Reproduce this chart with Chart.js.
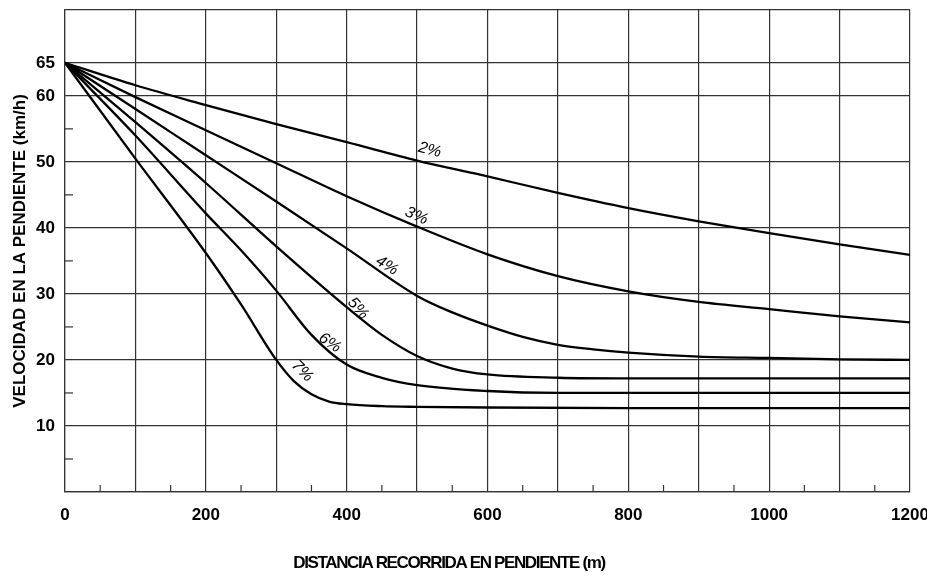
<!DOCTYPE html>
<html><head><meta charset="utf-8">
<script src="https://cdn.jsdelivr.net/npm/chart.js@4/dist/chart.umd.min.js"></script>
<style>html,body{margin:0;padding:0;background:#fff}#wrap{width:927px;height:576px}</style>
</head><body><div id="wrap"><canvas id="c" width="927" height="576"></canvas></div>
<script>
// ---- data ----
const seriesNames = ['2%','3%','4%','5%','6%','7%'];
const x2 = [0,100,200,300,400,500,600,700,800,900,1000,1100,1200];
const y2 = [65,61.6,58.6,55.7,53.0,50.2,47.8,45.3,43.0,41.0,39.2,37.5,35.9];
const x3 = [0,100,200,300,400,500,600,700,800,900,1000,1100,1200];
const y3 = [65,59.8,54.8,49.8,44.8,40.2,36.0,32.7,30.4,28.8,27.7,26.6,25.7];
const x4 = [0,100,200,300,400,500,550,600,650,700,750,800,900,1000,1100,1200];
const y4 = [65,58,51,44,36.9,29.7,27.2,25.2,23.5,22.3,21.6,21.1,20.5,20.3,20.1,20.0];
const x5 = [0,100,200,300,400,450,500,550,600,700,800,1000,1200];
const y5 = [65,56,46.8,37.2,28.0,23.8,20.6,18.7,17.8,17.3,17.2,17.2,17.2];
const x6 = [0,100,200,250,300,350,400,450,500,600,700,900,1200];
const y6 = [65,54,42.2,36.6,30.5,23.8,19.3,17.3,16.2,15.3,15.0,15.0,15.0];
const x7 = [0,100,200,250,300,325,350,375,400,450,500,600,800,1200];
const y7 = [65,50.5,36.2,28.4,20,16.8,14.8,13.7,13.3,13.0,12.9,12.8,12.7,12.7];
const yTickValues = [0,10,20,30,40,50,60,65,73];
const yLabelValues = [10,20,30,40,50,60,65];
const yMinorValues = [5,15,25,35,45,55];
const xMinorValues = [50,150,250,350,450,550,650,750,850,950,1050,1150];
const xLabelStep = 200;
const xTitle = 'DISTANCIA RECORRIDA EN PENDIENTE (m)';
const yTitle = 'VELOCIDAD EN LA PENDIENTE (km/h)';
// curve label anchors (data space) and rotation (deg)
const labelX = [518,499,457,416,376,337];
const labelY = [51.8,41.8,34.3,27.8,22.6,18.3];
const labelRot = [14,24,32,48,34,46];

const xs = [x2,x3,x4,x5,x6,x7];
const ys = [y2,y3,y4,y5,y6,y7];
const datasets = seriesNames.map((n,i)=>({
  label:n,
  data: xs[i].map((v,j)=>({x:v,y:ys[i][j]})),
  borderColor:'#000', borderWidth:2.3, pointRadius:0, fill:false,
  cubicInterpolationMode:'monotone'
}));

const FONT = '"Liberation Sans", Arial, sans-serif';
const GRID = '#333';

const extras = {
  id:'extras',
  afterDatasetsDraw(chart){
    const {ctx, scales:{x,y}} = chart;
    ctx.save();
    ctx.strokeStyle = GRID; ctx.lineWidth = 1.2;
    xMinorValues.forEach(v=>{
      const px = x.getPixelForValue(v);
      ctx.beginPath(); ctx.moveTo(px, y.bottom); ctx.lineTo(px, y.bottom-7); ctx.stroke();
    });
    yMinorValues.forEach(v=>{
      const py = y.getPixelForValue(v);
      ctx.beginPath(); ctx.moveTo(x.left, py); ctx.lineTo(x.left+8, py); ctx.stroke();
    });
    ctx.fillStyle = '#000';
    ctx.font = 'italic 16px ' + FONT;
    ctx.textAlign = 'center'; ctx.textBaseline = 'middle';
    seriesNames.forEach((n,i)=>{
      const px = x.getPixelForValue(labelX[i]);
      const py = y.getPixelForValue(labelY[i]);
      ctx.save(); ctx.translate(px,py); ctx.rotate(labelRot[i]*Math.PI/180);
      ctx.fillText(n,0,0); ctx.restore();
    });
    ctx.restore();
  },
  afterDraw(chart){
    // condensed x-axis title, as in the original print
    const ctx = chart.ctx;
    ctx.save();
    ctx.font = 'bold 17px ' + FONT;
    ctx.fillStyle = '#000';
    ctx.textAlign = 'center'; ctx.textBaseline = 'middle';
    const w = ctx.measureText(xTitle).width;
    const target = 313;
    if ('letterSpacing' in ctx) ctx.letterSpacing = ((target - w) / (xTitle.length - 1)).toFixed(2) + 'px';
    ctx.fillText(xTitle, 449, 563);
    ctx.restore();
  }
};

new Chart(document.getElementById('c'), {
  type:'line',
  data:{datasets},
  plugins:[extras],
  options:{
    responsive:false, animation:false,
    layout:{padding:{top:10,right:17,left:0,bottom:0}},
    plugins:{legend:{display:false}, tooltip:{enabled:false}},
    scales:{
      x:{
        type:'linear', min:0, max:1200,
        afterFit(s){ s.height = 84; s.paddingLeft = 0; s.paddingRight = 0; },
        ticks:{stepSize:100, autoSkip:false, maxRotation:0, padding:13,
          color:'#000', font:{family:FONT, size:17, weight:'bold'},
          callback:(v)=> (v % xLabelStep === 0 ? String(v) : '')},
        grid:{color:GRID, lineWidth:1.2, drawTicks:false},
        border:{color:GRID, width:1.2},
        title:{display:false}
      },
      y:{
        type:'linear', min:0, max:73,
        afterFit(s){ s.width = 65; s.paddingTop = 0; s.paddingBottom = 0; },
        afterBuildTicks(s){ s.ticks = yTickValues.map(v=>({value:v})); },
        ticks:{padding:10, color:'#000', font:{family:FONT, size:17, weight:'bold'},
          callback:(v)=> (yLabelValues.includes(v) ? String(v) : '')},
        grid:{color:GRID, lineWidth:1.2, drawTicks:false},
        border:{color:GRID, width:1.2},
        title:{display:true, text:yTitle, color:'#000',
          font:{family:FONT, size:17, weight:'bold'}, padding:{top:10,bottom:0}}
      }
    }
  }
});
</script></body></html>
